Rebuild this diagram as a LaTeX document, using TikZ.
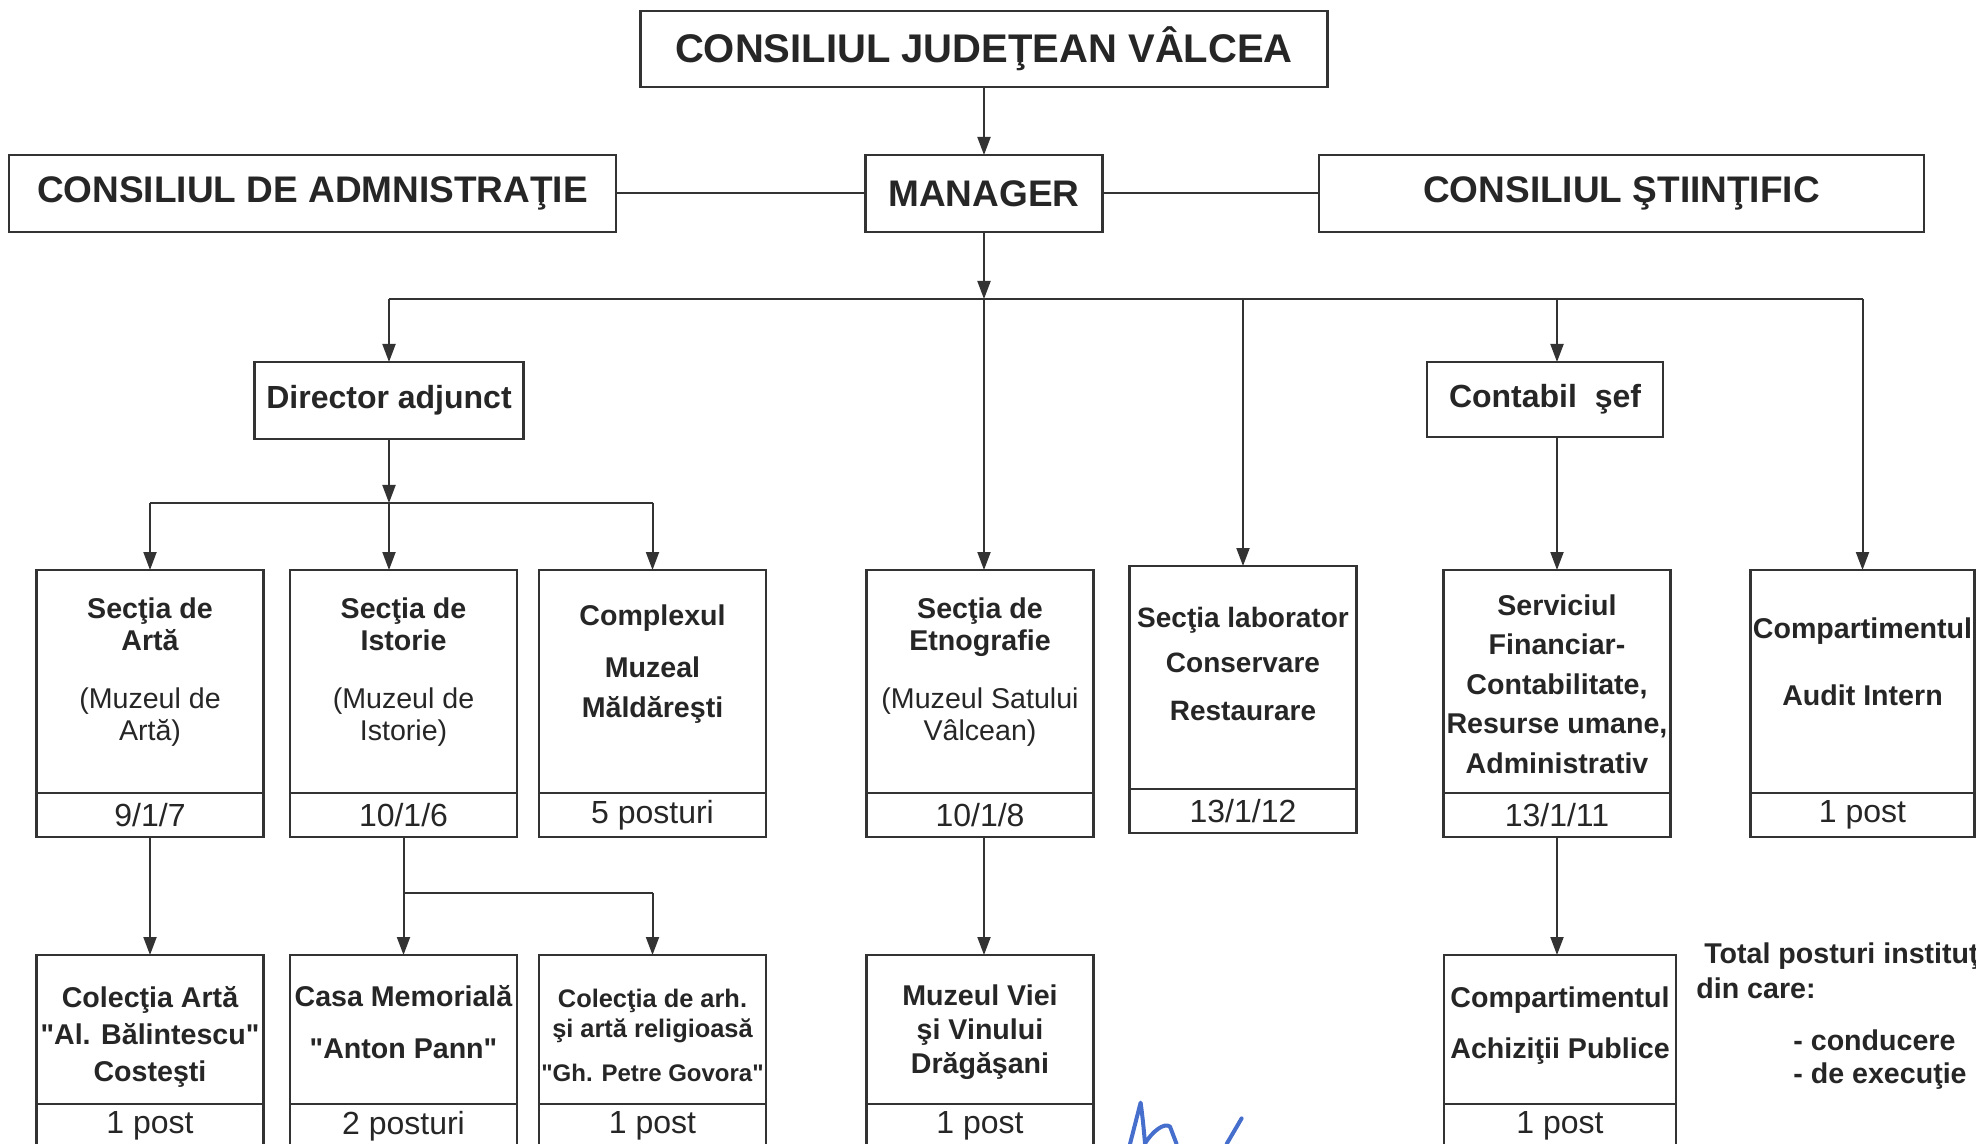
\documentclass[tikz,border=0pt]{standalone}
\usepackage{fontspec}
\setmainfont{Liberation Sans}[Ligatures=TeXOff]
\usetikzlibrary{arrows.meta,positioning}
\definecolor{ink}{RGB}{70,110,205}

\begin{document}
\begin{tikzpicture}[
		x=1pt, y=-1pt,
		every node/.style={text=black!85},
		box/.style={draw=black!80, line width=1.2pt, outer sep=0pt, inner sep=1pt, font=\bfseries},
		head/.style={box, minimum height=38.5pt, font=\fontsize{18.5pt}{20pt}\selectfont\bfseries},
		chief/.style={box, minimum height=38.5pt, font=\fontsize{16pt}{18pt}\selectfont\bfseries},
		unit/.style={box, anchor=north, minimum width=113.5pt, minimum height=111.5pt, inner ysep=0pt, align=center, font=\fontsize{14.3pt}{16pt}\selectfont\bfseries},
		subunit/.style={unit, minimum height=74.5pt},
		posts/.style={box, minimum width=113.5pt, minimum height=22pt, font=\fontsize{16pt}{18pt}\selectfont},
		link/.style={draw=black!80, line width=1pt},
		arr/.style={link, -{Triangle[length=9pt, width=6.5pt]}},
		sign/.style={draw=ink, line width=2pt, line cap=round, line join=round},
	]
		\useasboundingbox (0,0) rectangle (988,572);
		\clip (0,0) rectangle (988,572);

		% top level
		\node[box, minimum width=343.5pt, minimum height=38pt, font=\fontsize{20pt}{22pt}\selectfont\bfseries] (cjv) at (492,24.5) {CONSILIUL JUDEŢEAN VÂLCEA};
		\node[head, minimum width=118.5pt, below=34pt of cjv] (mgr) {MANAGER};
		\node[head, minimum width=303.5pt, left=124.75pt of mgr] (admin) {CONSILIUL DE ADMNISTRAŢIE};
		\node[head, minimum width=302.5pt, right=108.25pt of mgr] (sci) {CONSILIUL ŞTIINŢIFIC};
		\coordinate (bus) at (0,149.5);

		\node[chief, minimum width=134.5pt] (dir) at (194.5,200.25) {Director adjunct};
		\node[chief, minimum width=118pt, minimum height=37.5pt] (cont) at (772.5,199.75) {Contabil\ \ şef};
		\coordinate (dbus) at (0,251.5);

		% sections
		\node[unit, text height=85pt, text depth=26.5pt] (arta) at (75,285) {Secţia de\\Artă\\[13pt]{\mdseries (Muzeul de}\\{\mdseries Artă)}};
		\node[posts, below=0pt of arta] (artaN) {9/1/7};
		\node[unit, text height=85pt, text depth=26.5pt] (ist) at (201.75,285) {Secţia de\\Istorie\\[13pt]{\mdseries (Muzeul de}\\{\mdseries Istorie)}};
		\node[posts, below=0pt of ist] (istN) {10/1/6};
		\node[unit, text height=73.5pt, text depth=38pt] (cplx) at (326.25,285) {Complexul\\[10pt]Muzeal\\[4pt]Măldăreşti};
		\node[posts, below=0pt of cplx] (cplxN) {5 posturi};
		\node[unit, text height=85pt, text depth=26.5pt] (etno) at (490,285) {Secţia de\\Etnografie\\[13pt]{\mdseries (Muzeul Satului}\\{\mdseries Vâlcean)}};
		\node[posts, below=0pt of etno] (etnoN) {10/1/8};
		\node[unit, text height=77pt, text depth=34.5pt, font=\fontsize{14pt}{16pt}\selectfont\bfseries] (lab) at (621.5,283) {Secţia laborator\\[6.5pt]Conservare\\[8pt]Restaurare};
		\node[posts, below=0pt of lab] (labN) {13/1/12};
		\node[unit, text height=101.5pt, text depth=10pt] (serv) at (778.5,285) {Serviciul\\[3.75pt]Financiar-\\[3.75pt]Contabilitate,\\[3.75pt]Resurse umane,\\[3.75pt]Administrativ};
		\node[posts, below=0pt of serv] (servN) {13/1/11};
		\node[unit, text height=67.5pt, text depth=44pt, minimum width=112pt] (audit) at (931.25,285) {Compartimentul\\[17.5pt]Audit Intern};
		\node[posts, minimum width=112pt, below=0pt of audit] (auditN) {1 post};

		% museums
		\node[subunit, text height=63pt, text depth=11.5pt] (colArta) at (75,477.5) {Colecţia Artă\\[2.5pt]"Al. Bălintescu"\\[2.5pt]Costeşti};
		\node[posts, below=0pt of colArta] (colArtaN) {1 post};
		\node[subunit, text height=51.5pt, text depth=23pt] (casa) at (201.75,477.5) {Casa Memorială\\[9.8pt]"Anton Pann"};
		\node[posts, below=0pt of casa] (casaN) {2 posturi};
		\node[subunit, text height=63pt, text depth=11.5pt, font=\fontsize{12.7pt}{15pt}\selectfont\bfseries] (arh) at (326.25,477.5) {Colecţia de arh.\\şi artă religioasă\\[7pt]{\fontsize{12pt}{12pt}\selectfont "Gh. Petre Govora"}};
		\node[posts, below=0pt of arh] (arhN) {1 post};
		\node[subunit, text height=59pt, text depth=15.5pt] (viei) at (490,477.5) {Muzeul Viei\\[1pt]şi Vinului\\[0.8pt]Drăgăşani};
		\node[posts, below=0pt of viei] (vieiN) {1 post};
		\node[subunit, text height=51.5pt, text depth=23pt, minimum width=116pt] (achiz) at (780,477.5) {Compartimentul\\[9.5pt]Achiziţii Publice};
		\node[posts, minimum width=116pt, below=0pt of achiz] (achizN) {1 post};
		\coordinate (ibus) at (0,446.5);

		% totals
		\node[anchor=base west, align=left, inner sep=0pt, font=\fontsize{14.3pt}{17.5pt}\selectfont\bfseries] (total) at (848,499) {\ Total posturi instituţie\\din care:};
		\node[anchor=base west, align=left, inner sep=0pt, font=\fontsize{14.3pt}{16.5pt}\selectfont\bfseries] (split) at (896.5,541.5) {- conducere\\- de execuţie};

		% connectors
		\draw[arr] (cjv) -- (mgr);
		\draw[link] (admin) -- (mgr);
		\draw[link] (mgr) -- (sci);
		\draw[arr] (mgr) -- (mgr |- bus);
		\draw[link] (dir.north |- bus) -- (audit.north |- bus);
		\draw[arr] (dir.north |- bus) -- (dir.north);
		\draw[arr] (mgr |- bus) -- (mgr |- etno.north);
		\draw[arr] (lab.north |- bus) -- (lab.north);
		\draw[arr] (serv.north |- bus) -- (serv.north |- cont.north);
		\draw[arr] (serv.north |- cont.south) -- (serv.north);
		\draw[arr] (audit.north |- bus) -- (audit.north);

		\draw[arr] (dir) -- (dir |- dbus);
		\draw[link] (arta.north |- dbus) -- (cplx.north |- dbus);
		\draw[arr] (arta.north |- dbus) -- (arta.north);
		\draw[arr] (dir |- dbus) -- (dir |- ist.north);
		\draw[arr] (cplx.north |- dbus) -- (cplx.north);

		\draw[arr] (artaN) -- (colArta);
		\draw[link] (istN) -- (istN |- ibus) -- (arh.north |- ibus);
		\draw[arr] (istN |- ibus) -- (casa.north);
		\draw[arr] (arh.north |- ibus) -- (arh.north);
		\draw[arr] (mgr |- etnoN.south) -- (mgr |- viei.north);
		\draw[arr] (servN) -- (servN |- achiz.north);

		% signature
		\draw[sign] (565,572) -- (570.3,551.3) .. controls (571.5,560) and (572,566) .. (572.5,571.7)
			.. controls (576,566) and (582,561) .. (585,563.3) -- (588.3,572);
		\draw[sign] (620.8,559.2) -- (613.3,572);
	\end{tikzpicture}
\end{document}
